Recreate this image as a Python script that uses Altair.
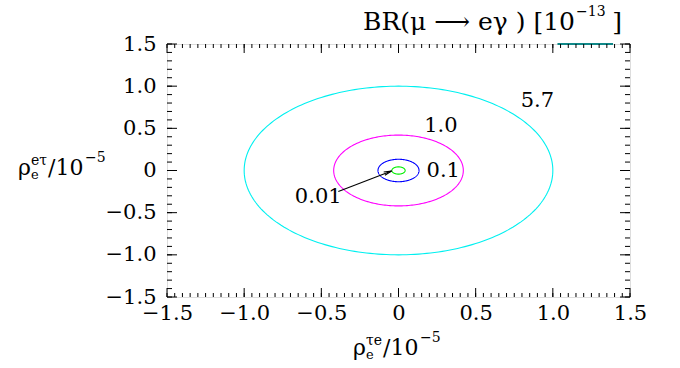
import altair as alt
import numpy as np
import pandas as pd

# ---- data ----
BR_LEVELS = ["5.7", "1.0", "0.1", "0.01"]
RADII = [1.0, 0.42, 0.133, 0.043]          # contour radius in units of 1e-5
COLORS = ["#00f0f0", "#ff00ff", "#0000ff", "#00ee00"]
LABEL_TEXT = ["5.7", "1.0", "0.1", "0.01"]
LABEL_X = [0.90, 0.275, 0.29, -0.52]
LABEL_Y = [0.83, 0.53, 0.0, -0.31]
ARROW_X = [-0.39, -0.045]
ARROW_Y = [-0.25, -0.005]
AXIS_TICKS = [-1.5, -1.0, -0.5, 0.0, 0.5, 1.0, 1.5]
X_MINOR = [round(-1.5 + 0.05 * i, 2) for i in range(61)]
Y_MINOR = [round(-1.5 + 0.1 * i, 2) for i in range(31)]
KEY_X = [1.03, 1.39]

W, H = 463, 253
FONT = "DejaVu Serif"
DOM = [-1.5, 1.5]

xs = alt.Scale(domain=DOM, nice=False, zero=False)
ys = alt.Scale(domain=DOM, nice=False, zero=False)

label_expr = "datum.value == 0 ? '0' : replace(format(datum.value, '.1f'), '-', '\u2212')"
AX_X = alt.Axis(values=AXIS_TICKS, labelExpr=label_expr, ticks=False, domain=False, grid=False,
                title=None, labelFont=FONT, labelFontSize=21, labelColor="black",
                labelPadding=5, labelFlush=False)
AX_Y = alt.Axis(values=AXIS_TICKS, labelExpr=label_expr, ticks=False, domain=False, grid=False,
                title=None, labelFont=FONT, labelFontSize=21, labelColor="black",
                labelPadding=11, labelFlush=False)


def X(f):
    return alt.X(f, scale=xs, axis=AX_X)


def Y(f):
    return alt.Y(f, scale=ys, axis=AX_Y)


rows = []
theta = np.linspace(0, 2 * np.pi, 241)
for lev, r in zip(BR_LEVELS, RADII):
    for i, t in enumerate(theta):
        rows.append({"level": lev, "i": i, "x": r * np.cos(t), "y": r * np.sin(t)})
circles = pd.DataFrame(rows)

lines = alt.Chart(circles).mark_line(strokeWidth=1.1, clip=True).encode(
    x=X("x:Q"), y=Y("y:Q"),
    color=alt.Color("level:N", scale=alt.Scale(domain=BR_LEVELS, range=COLORS), legend=None),
    detail="level:N",
    order="i:Q",
)

labels = alt.Chart(pd.DataFrame({"t": LABEL_TEXT, "x": LABEL_X, "y": LABEL_Y})).mark_text(
    font=FONT, fontSize=21, color="black").encode(x=X("x:Q"), y=Y("y:Q"), text="t:N")

arrow_df = pd.DataFrame({"x": ARROW_X, "y": ARROW_Y, "o": [0, 1]})
arrow_line = alt.Chart(arrow_df).mark_line(color="black", strokeWidth=1.1).encode(
    x=X("x:Q"), y=Y("y:Q"), order="o:Q")
arrow_head = alt.Chart(arrow_df.iloc[[1]]).mark_point(
    shape="M-0.45,2L0,0L0.45,2", filled=False, color="black", strokeWidth=1.1,
    size=60, angle=69, opacity=1).encode(x=X("x:Q"), y=Y("y:Q"))

key = alt.Chart(pd.DataFrame({"x": [KEY_X[0]], "x2": [KEY_X[1]]})).mark_rule(
    color="#108888", strokeWidth=2).encode(x=X("x:Q"), x2="x2:Q", y=alt.value(0))


def xticks(values, length):
    df = pd.DataFrame({"x": values})
    base = alt.Chart(df).mark_rule(color="black", strokeWidth=1)
    top = base.encode(x=X("x:Q"), y=alt.value(0), y2=alt.value(length))
    bot = base.encode(x=X("x:Q"), y=alt.value(H), y2=alt.value(H - length))
    return [top, bot]


def yticks(values, length):
    df = pd.DataFrame({"y": values})
    base = alt.Chart(df).mark_rule(color="black", strokeWidth=1)
    left = base.encode(y=Y("y:Q"), x=alt.value(0), x2=alt.value(length))
    right = base.encode(y=Y("y:Q"), x=alt.value(W), x2=alt.value(W - length))
    return [left, right]


ticks = xticks(X_MINOR, 4) + xticks(AXIS_TICKS, 9) + yticks(Y_MINOR, 5) + yticks(AXIS_TICKS, 10)


def txt(s, x, y, size, align="left"):
    return alt.Chart(pd.DataFrame({"s": [s]})).mark_text(
        font=FONT, fontSize=size, color="black", align=align, baseline="alphabetic").encode(
        text="s:N", x=alt.value(x), y=alt.value(y))


# x-axis title: rho_e^{tau e}/10^-5  (positions relative to plot origin)
xt = [txt("ρ", 186, 311, 22), txt("e", 199, 315, 13), txt("τe", 199, 301, 14),
      txt("/10", 216, 311, 22), txt("\u22125", 253, 298, 14)]
# y-axis title: rho_e^{e tau}/10^-5
yt = [txt("ρ", -149, 131, 22), txt("e", -136, 135, 13), txt("eτ", -136, 121, 14),
      txt("/10", -119, 131, 22), txt("\u22125", -82, 118, 14)]
# chart title: BR(mu -> e gamma) [10^-13]
tt = [txt("BR(μ \u27f6 eγ ) [10", 408, -14, 25, align="right"), txt("\u221213", 409, -28, 14),
      txt("]", 455, -14, 25, align="right")]

chart = alt.layer(lines, labels, arrow_line, arrow_head, key, *ticks, *xt, *yt, *tt).properties(
    width=W, height=H,
    autosize=alt.AutoSizeParams(type="none"),
    padding={"left": 167, "top": 44, "right": 680 - 167 - W, "bottom": 368 - 44 - H},
).configure_view(stroke="black", strokeWidth=1.2).configure(background="white")

chart.save("out.html", embed_options={"renderer": "svg", "actions": False})
